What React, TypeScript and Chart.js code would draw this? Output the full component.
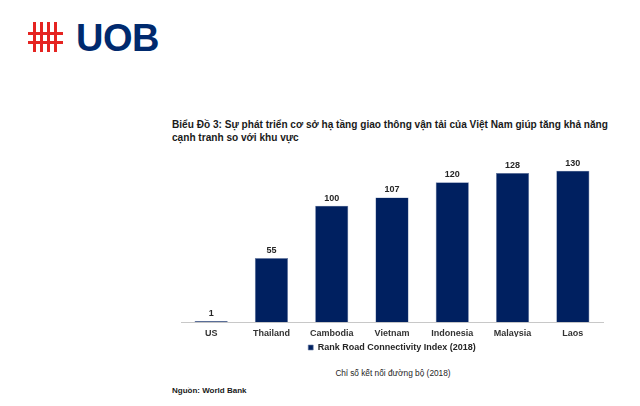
import React, { useEffect, useRef } from "react";
import { Chart, registerables } from "chart.js";

Chart.register(...registerables);

const categories = ["US", "Thailand", "Cambodia", "Vietnam", "Indonesia", "Malaysia", "Laos"];
const rankValues = [1, 55, 100, 107, 120, 128, 130];
const seriesLabel = "Rank Road Connectivity Index (2018)";
const titleText = "Biểu Đồ 3: Sự phát triển cơ sở hạ tầng giao thông vận tải của Việt Nam giúp tăng khả năng cạnh tranh so với khu vực";
const subtitleText = "Chỉ số kết nối đường bộ (2018)";
const sourceText = "Nguồn: World Bank";

const FONT = "'Liberation Sans', Arial, sans-serif";
const NAVY = "#002060";

const valueLabels = {
  id: "valueLabels",
  afterDatasetsDraw(chart: any) {
    const ctx = chart.ctx;
    const meta = chart.getDatasetMeta(0);
    ctx.save();
    ctx.font = `bold 9px ${FONT}`;
    ctx.fillStyle = "#262626";
    ctx.textAlign = "center";
    ctx.textBaseline = "alphabetic";
    meta.data.forEach((bar: any, i: number) => {
      ctx.fillText(String(chart.data.datasets[0].data[i]), bar.x, bar.y - 5);
    });
    ctx.restore();
  },
};

export default function App() {
  const canvasRef = useRef<HTMLCanvasElement | null>(null);

  useEffect(() => {
    if (!canvasRef.current) return;
    const chart = new Chart(canvasRef.current, {
      type: "bar",
      data: {
        labels: categories,
        datasets: [
          {
            label: seriesLabel,
            data: rankValues,
            backgroundColor: NAVY,
            borderColor: "#6d7fa6",
            borderWidth: 0.6,
            barPercentage: 0.55,
            categoryPercentage: 1,
          },
        ],
      },
      options: {
        animation: false,
        responsive: false,
        maintainAspectRatio: false,
        layout: { padding: { left: 21, right: 17, top: 9, bottom: 0 } },
        plugins: {
          legend: {
            display: true,
            position: "bottom",
            labels: {
              boxWidth: 5,
              boxHeight: 5,
              padding: 6,
              color: "#262626",
              font: { family: FONT, size: 9, weight: "bold" },
            },
          },
          tooltip: { enabled: false },
          title: { display: false },
        },
        scales: {
          x: {
            grid: { display: false },
            border: { display: true, color: "#c8c8c8", width: 1 },
            ticks: {
              color: "#333333",
              padding: -2,
              font: { family: FONT, size: 9, weight: "bold" },
              maxRotation: 0,
            },
          },
          y: {
            display: false,
            min: 0,
            max: 140,
          },
        },
      },
      plugins: [valueLabels],
    });
    return () => chart.destroy();
  }, []);

  return (
    <div style={{ position: "relative", width: 640, height: 406, margin: -8, background: "#fff", fontFamily: FONT, overflow: "hidden" }}>
      {/* Logo mark */}
      {[33, 40, 47, 54].map((x) => (
        <div key={x} style={{ position: "absolute", left: x, top: 22, width: 3, height: 30, background: "#e52421" }} />
      ))}
      {[32, 41].map((y) => (
        <div key={y} style={{ position: "absolute", left: 28, top: y, width: 35, height: 3, background: "#e52421" }} />
      ))}
      <div style={{ position: "absolute", left: 76, top: 15, fontSize: 38, fontWeight: "bold", color: "#002a6e", lineHeight: "46px", letterSpacing: -0.5 }}>
        UOB
      </div>
      <div style={{ position: "absolute", left: 172, top: 118, width: 450, fontSize: 10.1, fontWeight: "bold", color: "#1a1a1a", lineHeight: "13px" }}>
        {titleText}
      </div>
      <canvas ref={canvasRef} width={460} height={212} style={{ position: "absolute", left: 160, top: 150, width: 460, height: 212 }} />
      <div style={{ position: "absolute", left: 160, width: 466, top: 367, textAlign: "center", fontSize: 8.3, color: "#262626", lineHeight: "12px" }}>
        {subtitleText}
      </div>
      <div style={{ position: "absolute", left: 172, top: 385, fontSize: 8, fontWeight: "bold", color: "#1a1a1a", lineHeight: "12px" }}>
        {sourceText}
      </div>
    </div>
  );
}
